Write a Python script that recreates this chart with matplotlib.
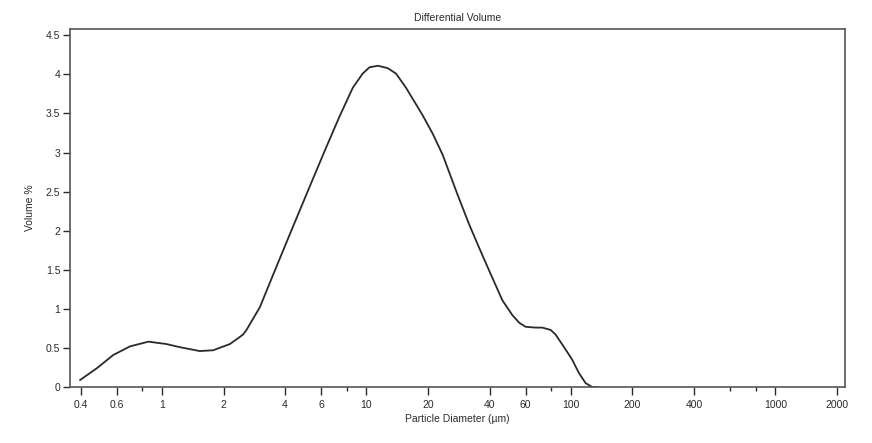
import numpy as np
import matplotlib
matplotlib.use("Agg")
import matplotlib.pyplot as plt
from matplotlib.ticker import FixedLocator, FixedFormatter, NullFormatter

# values
diameter = [0.398, 0.48, 0.578, 0.698, 0.858, 1.05, 1.22, 1.53, 1.78, 2.15,
            2.49, 2.59, 3.01, 3.63, 4.37, 5.27, 6.2, 7.38, 8.58, 9.59,
            10.34, 11.36, 12.7, 13.95, 15.6, 18.8, 21.1, 23.6, 28.0, 31.8,
            35.6, 40.6, 46.2, 51.7, 56.0, 60.1, 67.3, 72.4, 79.7, 84.2,
            94.2, 101.4, 109.4, 118.0, 127.0, 135.0]
volume = [0.09, 0.24, 0.41, 0.52, 0.58, 0.55, 0.51, 0.46, 0.47, 0.55,
          0.67, 0.73, 1.02, 1.54, 2.05, 2.56, 3.0, 3.46, 3.83, 4.01,
          4.09, 4.11, 4.08, 4.01, 3.83, 3.48, 3.24, 2.97, 2.45, 2.08,
          1.78, 1.44, 1.11, 0.92, 0.82, 0.77, 0.76, 0.76, 0.73, 0.67,
          0.48, 0.35, 0.18, 0.05, 0.0, 0.0]

x_major = [0.4, 0.6, 1, 2, 4, 6, 10, 20, 40, 60, 100, 200, 400, 1000, 2000]
x_labels = ["0.4", "0.6", "1", "2", "4", "6", "10", "20", "40", "60",
            "100", "200", "400", "1000", "2000"]
x_minor = [0.8, 8, 80, 600, 800]
y_major = [0, 0.5, 1, 1.5, 2, 2.5, 3, 3.5, 4, 4.5]
y_labels = ["0", "0.5", "1", "1.5", "2", "2.5", "3", "3.5", "4", "4.5"]

plt.rcParams["font.family"] = ["Liberation Sans", "DejaVu Sans"]
ink = "#2a2a2a"

fig = plt.figure(figsize=(8.72, 4.43), dpi=100)
ax = fig.add_axes([0.0803, 0.1264, 0.8887, 0.8081])

ax.plot(diameter, volume, color=ink, lw=1.3, solid_joinstyle="round")

ax.set_xscale("log")
ax.set_xlim(0.355, 2190)
ax.set_ylim(0, 4.58)

ax.xaxis.set_major_locator(FixedLocator(x_major))
ax.xaxis.set_major_formatter(FixedFormatter(x_labels))
ax.xaxis.set_minor_locator(FixedLocator(x_minor))
ax.xaxis.set_minor_formatter(NullFormatter())
ax.yaxis.set_major_locator(FixedLocator(y_major))
ax.yaxis.set_major_formatter(FixedFormatter(y_labels))

ax.tick_params(axis="x", which="major", direction="out", length=6, width=1,
               pad=3, labelsize=7.5, colors=ink)
ax.tick_params(axis="x", which="minor", direction="out", length=3, width=1,
               colors=ink)
ax.tick_params(axis="y", which="major", direction="out", length=5, width=1,
               pad=2, labelsize=7.5, colors=ink)

for sp in ax.spines.values():
    sp.set_color("#555555")
    sp.set_linewidth(1.2)

ax.set_title("Differential Volume", fontsize=7.5, color=ink, pad=6)
ax.set_xlabel("Particle Diameter (\u00b5m)", fontsize=7.5, color=ink, labelpad=3)
ax.set_ylabel("Volume %", fontsize=7.5, color=ink, labelpad=8)

fig.savefig("out.png", dpi=100)
